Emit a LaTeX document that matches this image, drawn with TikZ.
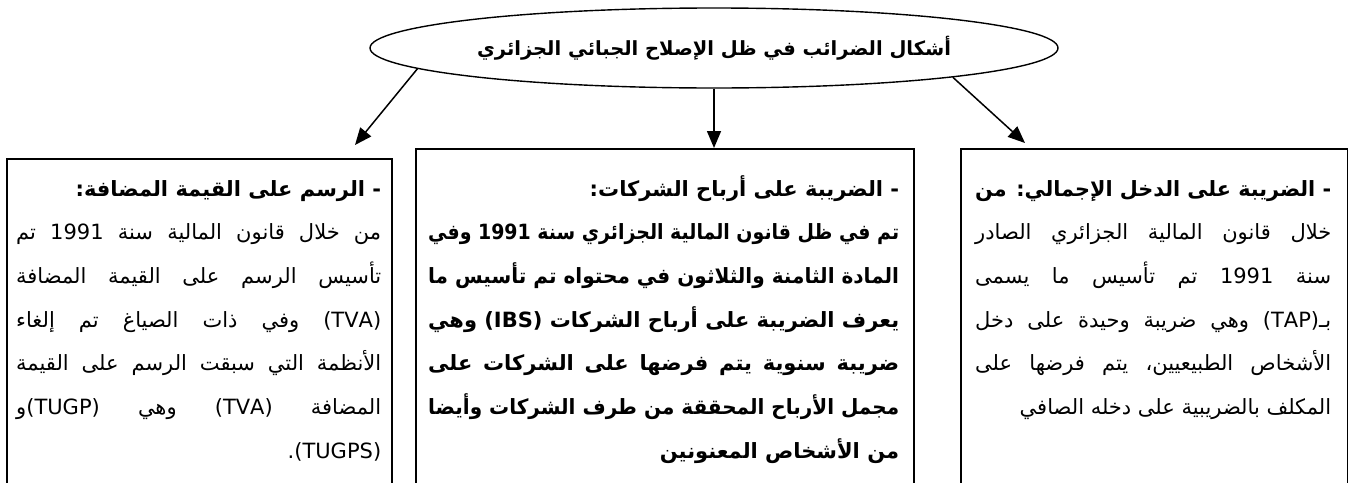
\documentclass[tikz,border=0pt]{standalone}
\usepackage{fontspec}
\usepackage{graphicx}
\TeXXeTstate=1
\newfontfamily\arabicfont[Script=Arabic]{DejaVu Sans}
\usetikzlibrary{shapes.geometric,arrows.meta}

\newsavebox\mylinebox
\newlength\lw
% justified line
\newcommand\jl[1]{\hbox{\sbox\mylinebox{\beginR #1\endR}%
  \ifdim\wd\mylinebox>\lw\resizebox{\lw}{\height}{\usebox\mylinebox}%
  \else\hbox to\lw{\beginR #1\endR}\fi}}
% right aligned line
\newcommand\rl[1]{\hbox{\sbox\mylinebox{\beginR #1\endR}%
  \ifdim\wd\mylinebox>\lw\resizebox{\lw}{\height}{\usebox\mylinebox}%
  \else\hbox to\lw{\hfill\usebox\mylinebox}\fi}}

\tikzset{
  boxstyle/.style={draw, line width=1.6pt, rectangle, inner sep=0pt, anchor=north west, minimum height=360pt},
  arr/.style={line width=1.5pt, -{Triangle[length=17pt, width=14pt]}},
  txt/.style={anchor=base west, inner sep=0pt, font=\arabicfont\fontsize{21}{43.7}\selectfont},
}

\begin{document}
\begin{tikzpicture}[x=1pt, y=-1pt]
\useasboundingbox (0,0) rectangle (1348,482);
\fill[white] (0,0) rectangle (1348,482);
\begin{scope}
\clip (0,0) rectangle (1348,482);

% title ellipse
\node[ellipse, draw, line width=1.4pt, minimum width=688pt, minimum height=80pt, inner sep=0pt,
      font=\arabicfont\bfseries\fontsize{19.5}{24}\selectfont] (ell) at (714,48)
      {\beginR أشكال الضرائب في ظل الإصلاح الجبائي الجزائري\endR};

% boxes
\node[boxstyle, minimum width=385pt] (lbox) at (6,158) {};
\node[boxstyle, minimum width=498pt] (mbox) at (415,148) {};
\node[boxstyle, minimum width=387pt] (rbox) at (960,148) {};

% arrow ends
\coordinate (lend) at (355,145);
\coordinate (rend) at (1025,143);
\draw[arr] (ell.184.3) -- (lend);
\draw[arr] (ell.south) -- (ell.south |- mbox.north);
\draw[arr] (ell.353.5) -- (rend);

% left box text
\node[txt] (ltxt) at (16,196) {\setlength\lw{365pt}\vtop{\baselineskip=43.7pt\lineskiplimit=-100pt
  \rl{\bfseries - الرسم على القيمة المضافة:}
  \jl{من خلال قانون المالية سنة \beginL1991\endL{} تم}
  \jl{تأسيس الرسم على القيمة المضافة}
  \jl{\beginL(TVA)\endL{} وفي ذات الصياغ تم إلغاء}
  \jl{الأنظمة التي سبقت الرسم على القيمة}
  \jl{المضافة \beginL(TVA)\endL{} وهي \beginL(TUGP)\endL{}و}
  \rl{\beginL(TUGPS)\endL.}
}};

% middle box text
\node[txt] (mtxt) at (428,196) {\setlength\lw{471pt}\bfseries\vtop{\baselineskip=43.7pt\lineskiplimit=-100pt
  \rl{- الضريبة على أرباح الشركات:}
  \jl{تم في ظل قانون المالية الجزائري سنة \beginL1991\endL{} وفي}
  \jl{المادة الثامنة والثلاثون في محتواه تم تأسيس ما}
  \jl{يعرف الضريبة على أرباح الشركات \beginL(IBS)\endL{} وهي}
  \jl{ضريبة سنوية يتم فرضها على الشركات على}
  \jl{مجمل الأرباح المحققة من طرف الشركات وأيضا}
  \rl{من الأشخاص المعنونين}
}};

% right box text
\node[txt] (rtxt) at (975,196) {\setlength\lw{356pt}\vtop{\baselineskip=43.7pt\lineskiplimit=-100pt
  \jl{\bfseries - الضريبة على الدخل الإجمالي: من}
  \jl{خلال قانون المالية الجزائري الصادر}
  \jl{سنة \beginL1991\endL{} تم تأسيس ما يسمى}
  \jl{بـ\beginL(TAP)\endL{} وهي ضريبة وحيدة على دخل}
  \jl{الأشخاص الطبيعيين، يتم فرضها على}
  \rl{المكلف بالضريبية على دخله الصافي}
}};
\end{scope}
\end{tikzpicture}
\end{document}
